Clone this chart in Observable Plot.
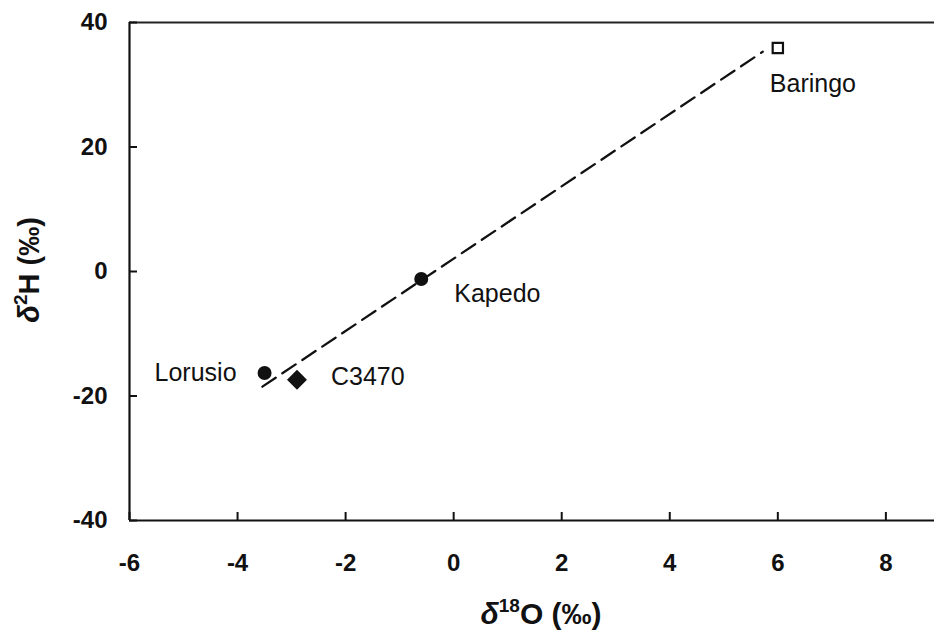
<!DOCTYPE html>
<html><head><meta charset="utf-8">
<script src="https://cdn.jsdelivr.net/npm/d3@7"></script>
<script src="https://cdn.jsdelivr.net/npm/@observablehq/plot@0.6"></script>
<style>body{margin:0;background:#fff} #chart{width:934px;height:636px}</style>
</head><body><div id="chart"></div>
<script>
// Data
const sites = ["Lorusio", "C3470", "Kapedo", "Baringo"];
const d18O = [-3.5, -2.9, -0.6, 6.0];
const d2H = [-16.3, -17.4, -1.2, 35.9];
const symbols = ["circle", "diamond2", "circle", "square"];
const lineX = [-3.54, 5.72];
const lineY = [-18.5, 35.3];
const xTicks = [-6, -4, -2, 0, 2, 4, 6, 8];
const yTicks = [-40, -20, 0, 20, 40];

const pts = sites.map((s, i) => ({site: s, x: d18O[i], y: d2H[i], symbol: symbols[i]}));
const fit = lineX.map((x, i) => ({x, y: lineY[i]}));
const ink = "#111";
const site = name => pts.filter(d => d.site === name);

const chart = Plot.plot({
  width: 934, height: 636,
  marginLeft: 129, marginRight: 0, marginTop: 22, marginBottom: 116,
  x: {domain: [-6, 8.9]},
  y: {domain: [-40, 40]},
  style: {fontFamily: "'Liberation Sans', Arial, sans-serif", color: ink, background: "white"},
  marks: [
    Plot.ruleY([40], {stroke: "#222", strokeWidth: 2}),
    Plot.ruleY([-40], {stroke: ink, strokeWidth: 2.2}),
    Plot.ruleX([-6], {stroke: ink, strokeWidth: 2.2}),
    Plot.axisX({ticks: xTicks, tickSize: -8, tickPadding: 41, label: null, tickFormat: d => String(d),
      fontSize: 24, fontWeight: "bold", strokeWidth: 2}),
    Plot.axisY({ticks: yTicks, tickSize: -8, tickPadding: 30, label: null, tickFormat: d => String(d),
      fontSize: 24, fontWeight: "bold", strokeWidth: 2}),
    Plot.line(fit, {x: "x", y: "y", stroke: ink, strokeWidth: 2.3, strokeDasharray: "16,8"}),
    Plot.dot(pts.filter(d => d.symbol === "circle"), {x: "x", y: "y", symbol: "circle", fill: ink, stroke: "none", r: 7}),
    Plot.dot(pts.filter(d => d.symbol === "diamond2"), {x: "x", y: "y", symbol: "diamond2", fill: ink, stroke: "none", r: 9}),
    Plot.dot(pts.filter(d => d.symbol === "square"), {x: "x", y: "y", symbol: "square", fill: "white", stroke: ink, strokeWidth: 2.2, r: 5.8}),
    Plot.text(site("Lorusio"), {x: "x", y: "y", text: "site", textAnchor: "end", dx: -28, dy: 0, fontSize: 25, fill: ink}),
    Plot.text(site("C3470"), {x: "x", y: "y", text: "site", textAnchor: "start", dx: 34, dy: -3, fontSize: 25, fill: ink}),
    Plot.text(site("Kapedo"), {x: "x", y: "y", text: "site", textAnchor: "start", dx: 33, dy: 15, fontSize: 25, fill: ink}),
    Plot.text(site("Baringo"), {x: "x", y: "y", text: "site", textAnchor: "start", dx: -8, dy: 36, fontSize: 25, fill: ink})
  ]
});
document.getElementById("chart").append(chart);

// Axis titles with superscripts
const svg = d3.select(chart);
const xt = svg.append("text")
  .attr("x", 541).attr("y", 624)
  .attr("text-anchor", "middle")
  .attr("font-size", 30).attr("font-weight", "bold").attr("fill", ink);
xt.append("tspan").attr("font-style", "italic").text("δ");
xt.append("tspan").attr("font-size", 19).attr("dy", -12).text("18");
xt.append("tspan").attr("dy", 12).text("O (‰)");

const yt = svg.append("text")
  .attr("transform", "translate(39,270) rotate(-90)")
  .attr("text-anchor", "middle")
  .attr("font-size", 29).attr("font-weight", "bold").attr("fill", ink);
yt.append("tspan").attr("font-style", "italic").text("δ");
yt.append("tspan").attr("font-size", 19).attr("dy", -12).text("2");
yt.append("tspan").attr("dy", 12).text("H (‰)");
</script>
</body></html>
